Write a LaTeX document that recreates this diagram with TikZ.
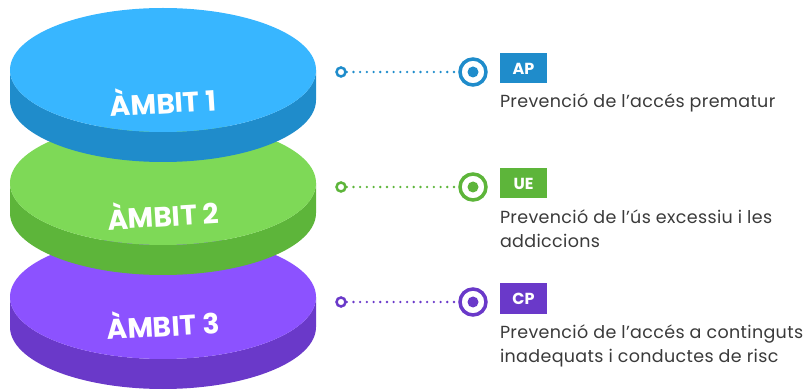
\documentclass[tikz,border=0pt]{standalone}
\usepackage{fontspec}
\setmainfont{Poppins}
\usetikzlibrary{positioning}

\definecolor{bluetop}{HTML}{38B6FF}
\definecolor{blueside}{HTML}{1F8CCB}
\definecolor{greentop}{HTML}{7ED957}
\definecolor{greenside}{HTML}{5DB53A}
\definecolor{purpletop}{HTML}{8C52FF}
\definecolor{purpleside}{HTML}{6A39C9}
\definecolor{textgray}{HTML}{3A3A3A}

\tikzset{
  disklabel/.style={text=white, font=\fontsize{28}{28}\selectfont\bfseries, rotate=3.5},
  tagbox/.style={fill=#1, text=white, font=\fontsize{16}{16}\selectfont\bfseries,
    minimum width=47pt, minimum height=30pt, inner sep=0pt},
  enddot/.style={circle, draw=#1, line width=2.5pt, fill=white, minimum size=9pt, inner sep=0pt},
  ring/.style={circle, draw=#1, line width=3.5pt, fill=white, minimum size=26pt, inner sep=0pt},
  dotline/.style={draw=#1, line width=2.6pt, line cap=round, dash pattern=on 0pt off 6.7pt},
  desc/.style={inner sep=0pt, align=left, text=textgray,
    font=\fontsize{17.5}{24}\selectfont\addfontfeature{LetterSpace=2}}
}

% one disk: centre y, top colour, side colour
\newcommand{\drawdisk}[3]{%
  \fill[#3] (10,-#1) -- (10,-#1-30)
    arc [start angle=180, end angle=360, x radius=153pt, y radius=62pt]
    -- (316,-#1)
    arc [start angle=360, end angle=180, x radius=153pt, y radius=62pt] -- cycle;
  \fill[#2] (163,-#1) ellipse [x radius=153pt, y radius=62pt];}

\begin{document}
\begin{tikzpicture}[x=1pt, y=1pt]
  \useasboundingbox (0,0) rectangle (809,-390);

  % disks, bottom first
  \drawdisk{297}{purpletop}{purpleside}
  \drawdisk{183}{greentop}{greenside}
  \drawdisk{70}{bluetop}{blueside}
  \node[disklabel] (amb1) at (163,-100) {ÀMBIT 1};
  \node[disklabel] (amb2) at (163,-213) {ÀMBIT 2};
  \node[disklabel] (amb3) at (163,-323) {ÀMBIT 3};

  % AP
  \node[enddot=blueside] (s1) at (341,-72) {};
  \node[ring=blueside] (r1) at (473,-72) {};
  \fill[blueside] (r1) circle (5.5pt);
  \draw[dotline=blueside] (s1.east) -- (r1.west);
  \node[tagbox=blueside] (ap) at (523.5,-68.5) {AP};
  \node[desc, below=10pt of ap.south west, anchor=north west] (d1)
    {Prevenció de l’accés prematur};

  % UE
  \node[enddot=greenside] (s2) at (341,-187) {};
  \node[ring=greenside] (r2) at (473,-187) {};
  \fill[greenside] (r2) circle (5.5pt);
  \draw[dotline=greenside] (s2.east) -- (r2.west);
  \node[tagbox=greenside] (ue) at (523.5,-183.5) {UE};
  \node[desc, below=11pt of ue.south west, anchor=north west] (d2)
    {Prevenció de l'ús excessiu i les\\addiccions};

  % CP
  \node[enddot=purpleside] (s3) at (341,-302) {};
  \node[ring=purpleside] (r3) at (473,-302) {};
  \fill[purpleside] (r3) circle (5.5pt);
  \draw[dotline=purpleside] (s3.east) -- (r3.west);
  \node[tagbox=purpleside] (cp) at (523.5,-298.5) {CP};
  \node[desc, below=11pt of cp.south west, anchor=north west] (d3)
    {Prevenció de l'accés a continguts\\inadequats i conductes de risc};
\end{tikzpicture}
\end{document}
